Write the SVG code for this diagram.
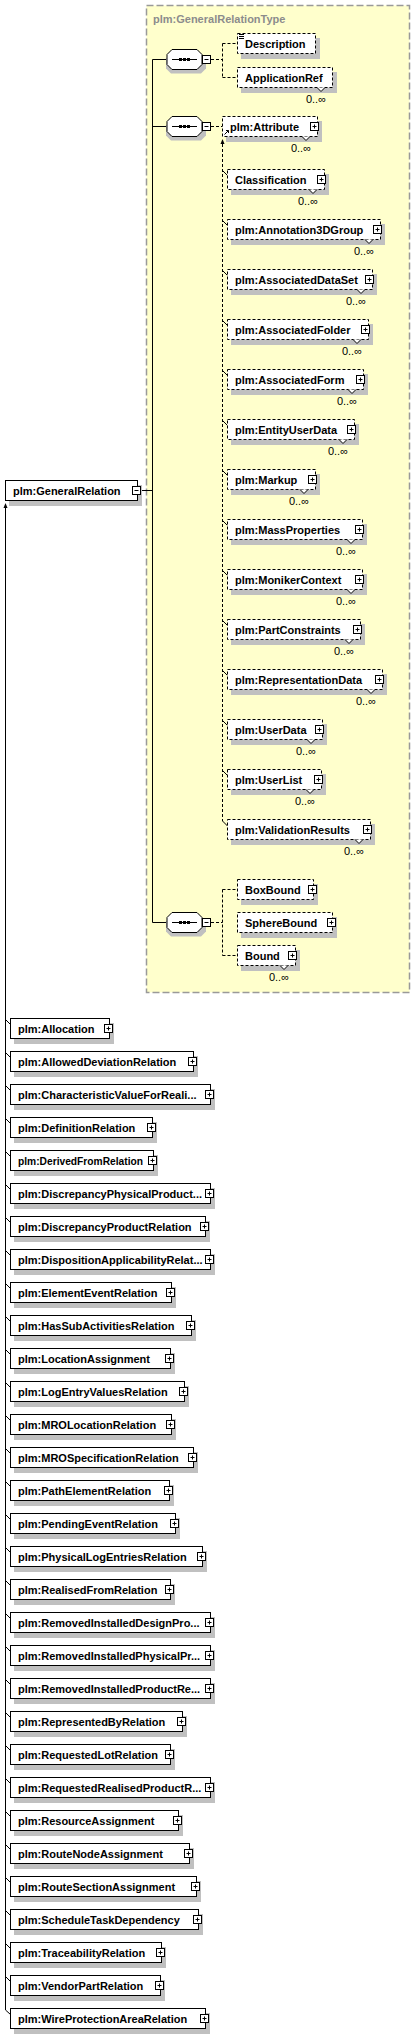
<svg xmlns="http://www.w3.org/2000/svg" xmlns:xlink="http://www.w3.org/1999/xlink" width="415" height="2034" viewBox="0 0 415 2034">
<style>
.sh{fill:#c0c0c0}
.bx{fill:#fff;stroke:#000;stroke-width:1}
.op{stroke-dasharray:3,2}
.t{font-family:"Liberation Sans",Arial,sans-serif;font-size:11px;font-weight:bold;fill:#000}
.m{font-family:"Liberation Sans",Arial,sans-serif;font-size:11px;fill:#000;text-anchor:end}
.ln{fill:none;stroke:#000;stroke-width:1}
.dl{fill:none;stroke:#000;stroke-width:1;stroke-dasharray:3,2}
.v{fill:#fff;stroke:#000;stroke-width:1}
</style>
<defs>
<g id="plus"><rect x="0.5" y="-4" width="8" height="8" fill="#fff" stroke="#000"/><path d="M2.5,0H6.5M4.5,-2V2" stroke="#000" fill="none"/></g>
<g id="minus"><rect x="0.5" y="-4" width="8" height="8" fill="#fff" stroke="#000"/><path d="M2.5,0H6.5" stroke="#000" fill="none"/></g>
<g id="seq">
<polygon points="4,4 34,4 39,9 39,19 34,24 4,24 -1,19 -1,9" class="sh"/>
<polygon points="5,0 30,0 35,5 35,15 30,20 5,20 0,15 0,5" class="bx"/>
<path d="M5,10H30" stroke="#000"/>
<rect x="12" y="8.5" width="3" height="3" fill="#000"/><rect x="16" y="8.5" width="3" height="3" fill="#000"/><rect x="20" y="8.5" width="3" height="3" fill="#000"/>
</g>
</defs>

<rect id="complexType" x="146.5" y="5.5" width="263" height="987" fill="#ffffcc" stroke="#999" stroke-width="1.5" stroke-dasharray="7,3"/>
<text x="153" y="23" class="t" style="fill:#8c8c8c">plm:GeneralRelationType</text>

<g id="connectors">
<path class="ln" d="M141,490.5H152.5M152.5,59.5V922.5M152.5,59.5H167M152.5,126.5H167M152.5,922.5H167"/>
<path class="dl" d="M211,59.5H222.5M222.5,43.5V77.5M222.5,43.5H237.5M222.5,77.5H237.5"/>
<path class="dl" d="M211,126.5H222.5"/>
<path class="dl" d="M211,922.5H222.5M222.5,889.5V955.5M222.5,889.5H237.5M222.5,955.5H237.5"/>
<path class="dl" d="M222.5,144V821"/>
<polygon points="222.5,139 220.5,144 224.5,144" fill="#000"/>
<path class="ln" d="M5.5,508V2010"/>
<polygon points="5.5,503 3.5,508 7.5,508" fill="#000"/>
<path class="ln" d="M223,171L227.5,175.5M223,221L227.5,225.5M223,271L227.5,275.5M223,321L227.5,325.5M223,371L227.5,375.5M223,421L227.5,425.5M223,471L227.5,475.5M223,521L227.5,525.5M223,571L227.5,575.5M223,621L227.5,625.5M223,671L227.5,675.5M223,721L227.5,725.5M223,771L227.5,775.5M222.5,821L227.5,826"/>
<path class="ln" d="M6,1020L10.5,1024.5M6,1053L10.5,1057.5M6,1086L10.5,1090.5M6,1119L10.5,1123.5M6,1152L10.5,1156.5M6,1185L10.5,1189.5M6,1218L10.5,1222.5M6,1251L10.5,1255.5M6,1284L10.5,1288.5M6,1317L10.5,1321.5M6,1350L10.5,1354.5M6,1383L10.5,1387.5M6,1416L10.5,1420.5M6,1449L10.5,1453.5M6,1482L10.5,1486.5M6,1515L10.5,1519.5M6,1548L10.5,1552.5M6,1581L10.5,1585.5M6,1614L10.5,1618.5M6,1647L10.5,1651.5M6,1680L10.5,1684.5M6,1713L10.5,1717.5M6,1746L10.5,1750.5M6,1779L10.5,1783.5M6,1812L10.5,1816.5M6,1845L10.5,1849.5M6,1878L10.5,1882.5M6,1911L10.5,1915.5M6,1944L10.5,1948.5M6,1977L10.5,1981.5M5.5,2010L10.5,2014.5"/>
</g>

<g id="GeneralRelation">
<rect x="9" y="485" width="133" height="21" class="sh"/>
<rect x="5.5" y="480.5" width="132" height="20" class="bx"/>
<text x="13" y="494.5" class="t">plm:GeneralRelation</text>
<use href="#minus" x="132" y="490.5"/>
</g>

<g id="seq1"><use href="#seq" x="167" y="49.5"/><use href="#minus" x="202" y="59.5"/></g>
<g id="seq2"><use href="#seq" x="167" y="116.5"/><use href="#minus" x="202" y="126.5"/></g>
<g id="seq3"><use href="#seq" x="167" y="912.5"/><use href="#minus" x="202" y="922.5"/></g>

<g id="Description">
<rect x="241" y="38" width="79" height="21" class="sh"/>
<rect x="237.5" y="33.5" width="78" height="20" class="bx op"/>
<path d="M239,34.5H244M239,36.5H244M239,38.5H244" stroke="#000"/>
<text x="245" y="47.5" class="t">Description</text>
</g>
<g id="ApplicationRef">
<rect x="241" y="72" width="96" height="21" class="sh"/>
<rect x="237.5" y="67.5" width="95" height="20" class="bx op"/>
<polyline points="317,87.5 321,91.5 325,87.5" class="v"/>
<text x="245" y="81.5" class="t">ApplicationRef</text>
<text x="326" y="103" class="m">0..∞</text>
</g>
<g id="Attribute">
<rect x="226" y="121" width="96" height="21" class="sh"/>
<rect x="222.5" y="116.5" width="95" height="20" class="bx op"/>
<polyline points="302,136.5 306,140.5 310,136.5" class="v"/>
<path d="M224.5,134.5L228.5,130.5M226,130.5H228.5V133" stroke="#000" fill="none"/>
<text x="230" y="130.5" class="t">plm:Attribute</text>
<use href="#plus" x="310" y="126.5"/>
<text x="311" y="152" class="m">0..∞</text>
</g>

<g id="Classification">
<rect x="231" y="174" width="98" height="21" class="sh"/>
<rect x="227.5" y="169.5" width="97" height="20" class="bx op"/>
<polyline points="309,189.5 313,193.5 317,189.5" class="v"/>
<text x="235" y="183.5" class="t">Classification</text>
<use href="#plus" x="317" y="179.5"/>
<text x="318" y="205" class="m">0..∞</text>
</g>
<g id="Annotation3DGroup">
<rect x="231" y="224" width="154" height="21" class="sh"/>
<rect x="227.5" y="219.5" width="153" height="20" class="bx op"/>
<polyline points="365,239.5 369,243.5 373,239.5" class="v"/>
<text x="235" y="233.5" class="t">plm:Annotation3DGroup</text>
<use href="#plus" x="373" y="229.5"/>
<text x="374" y="255" class="m">0..∞</text>
</g>
<g id="AssociatedDataSet">
<rect x="231" y="274" width="146" height="21" class="sh"/>
<rect x="227.5" y="269.5" width="145" height="20" class="bx op"/>
<polyline points="357,289.5 361,293.5 365,289.5" class="v"/>
<text x="235" y="283.5" class="t">plm:AssociatedDataSet</text>
<use href="#plus" x="365" y="279.5"/>
<text x="366" y="305" class="m">0..∞</text>
</g>
<g id="AssociatedFolder">
<rect x="231" y="324" width="142" height="21" class="sh"/>
<rect x="227.5" y="319.5" width="141" height="20" class="bx op"/>
<polyline points="353,339.5 357,343.5 361,339.5" class="v"/>
<text x="235" y="333.5" class="t">plm:AssociatedFolder</text>
<use href="#plus" x="361" y="329.5"/>
<text x="362" y="355" class="m">0..∞</text>
</g>
<g id="AssociatedForm">
<rect x="231" y="374" width="137" height="21" class="sh"/>
<rect x="227.5" y="369.5" width="136" height="20" class="bx op"/>
<polyline points="348,389.5 352,393.5 356,389.5" class="v"/>
<text x="235" y="383.5" class="t">plm:AssociatedForm</text>
<use href="#plus" x="356" y="379.5"/>
<text x="357" y="405" class="m">0..∞</text>
</g>
<g id="EntityUserData">
<rect x="231" y="424" width="128" height="21" class="sh"/>
<rect x="227.5" y="419.5" width="127" height="20" class="bx op"/>
<polyline points="339,439.5 343,443.5 347,439.5" class="v"/>
<text x="235" y="433.5" class="t">plm:EntityUserData</text>
<use href="#plus" x="347" y="429.5"/>
<text x="348" y="455" class="m">0..∞</text>
</g>
<g id="Markup">
<rect x="231" y="474" width="89" height="21" class="sh"/>
<rect x="227.5" y="469.5" width="88" height="20" class="bx op"/>
<polyline points="300,489.5 304,493.5 308,489.5" class="v"/>
<text x="235" y="483.5" class="t">plm:Markup</text>
<use href="#plus" x="308" y="479.5"/>
<text x="309" y="505" class="m">0..∞</text>
</g>
<g id="MassProperties">
<rect x="231" y="524" width="136" height="21" class="sh"/>
<rect x="227.5" y="519.5" width="135" height="20" class="bx op"/>
<polyline points="347,539.5 351,543.5 355,539.5" class="v"/>
<text x="235" y="533.5" class="t">plm:MassProperties</text>
<use href="#plus" x="355" y="529.5"/>
<text x="356" y="555" class="m">0..∞</text>
</g>
<g id="MonikerContext">
<rect x="231" y="574" width="136" height="21" class="sh"/>
<rect x="227.5" y="569.5" width="135" height="20" class="bx op"/>
<polyline points="347,589.5 351,593.5 355,589.5" class="v"/>
<text x="235" y="583.5" class="t">plm:MonikerContext</text>
<use href="#plus" x="355" y="579.5"/>
<text x="356" y="605" class="m">0..∞</text>
</g>
<g id="PartConstraints">
<rect x="231" y="624" width="134" height="21" class="sh"/>
<rect x="227.5" y="619.5" width="133" height="20" class="bx op"/>
<polyline points="345,639.5 349,643.5 353,639.5" class="v"/>
<text x="235" y="633.5" class="t">plm:PartConstraints</text>
<use href="#plus" x="353" y="629.5"/>
<text x="354" y="655" class="m">0..∞</text>
</g>
<g id="RepresentationData">
<rect x="231" y="674" width="156" height="21" class="sh"/>
<rect x="227.5" y="669.5" width="155" height="20" class="bx op"/>
<polyline points="367,689.5 371,693.5 375,689.5" class="v"/>
<text x="235" y="683.5" class="t">plm:RepresentationData</text>
<use href="#plus" x="375" y="679.5"/>
<text x="376" y="705" class="m">0..∞</text>
</g>
<g id="UserData">
<rect x="231" y="724" width="96" height="21" class="sh"/>
<rect x="227.5" y="719.5" width="95" height="20" class="bx op"/>
<polyline points="307,739.5 311,743.5 315,739.5" class="v"/>
<text x="235" y="733.5" class="t">plm:UserData</text>
<use href="#plus" x="315" y="729.5"/>
<text x="316" y="755" class="m">0..∞</text>
</g>
<g id="UserList">
<rect x="231" y="774" width="95" height="21" class="sh"/>
<rect x="227.5" y="769.5" width="94" height="20" class="bx op"/>
<polyline points="306,789.5 310,793.5 314,789.5" class="v"/>
<text x="235" y="783.5" class="t">plm:UserList</text>
<use href="#plus" x="314" y="779.5"/>
<text x="315" y="805" class="m">0..∞</text>
</g>
<g id="ValidationResults">
<rect x="231" y="824" width="144" height="21" class="sh"/>
<rect x="227.5" y="819.5" width="143" height="20" class="bx op"/>
<polyline points="355,839.5 359,843.5 363,839.5" class="v"/>
<text x="235" y="833.5" class="t">plm:ValidationResults</text>
<use href="#plus" x="363" y="829.5"/>
<text x="364" y="855" class="m">0..∞</text>
</g>

<g id="BoxBound">
<rect x="241" y="884" width="77" height="21" class="sh"/>
<rect x="237.5" y="879.5" width="76" height="20" class="bx op"/>
<text x="245" y="893.5" class="t">BoxBound</text>
<use href="#plus" x="308" y="889.5"/>
</g>
<g id="SphereBound">
<rect x="241" y="917" width="96" height="21" class="sh"/>
<rect x="237.5" y="912.5" width="95" height="20" class="bx op"/>
<text x="245" y="926.5" class="t">SphereBound</text>
<use href="#plus" x="327" y="922.5"/>
</g>
<g id="Bound">
<rect x="241" y="950" width="59" height="21" class="sh"/>
<rect x="237.5" y="945.5" width="58" height="20" class="bx op"/>
<polyline points="280,965.5 284,969.5 288,965.5" class="v"/>
<text x="245" y="959.5" class="t">Bound</text>
<use href="#plus" x="288" y="955.5"/>
<text x="289" y="981" class="m">0..∞</text>
</g>

<g id="Allocation"><rect x="14" y="1023" width="100" height="21" class="sh"/><rect x="10.5" y="1018.5" width="99" height="20" class="bx"/><text x="18" y="1032.5" class="t">plm:Allocation</text><use href="#plus" x="104" y="1028.5"/></g>
<g id="AllowedDeviationRelation"><rect x="14" y="1056" width="184" height="21" class="sh"/><rect x="10.5" y="1051.5" width="183" height="20" class="bx"/><text x="18" y="1065.5" class="t">plm:AllowedDeviationRelation</text><use href="#plus" x="188" y="1061.5"/></g>
<g id="CharacteristicValueForRealisedProduct"><rect x="14" y="1089" width="201" height="21" class="sh"/><rect x="10.5" y="1084.5" width="200" height="20" class="bx"/><text x="18" y="1098.5" class="t">plm:CharacteristicValueForReali...</text><use href="#plus" x="205" y="1094.5"/></g>
<g id="DefinitionRelation"><rect x="14" y="1122" width="143" height="21" class="sh"/><rect x="10.5" y="1117.5" width="142" height="20" class="bx"/><text x="18" y="1131.5" class="t">plm:DefinitionRelation</text><use href="#plus" x="147" y="1127.5"/></g>
<g id="DerivedFromRelation"><rect x="14" y="1155" width="144" height="21" class="sh"/><rect x="10.5" y="1150.5" width="143" height="20" class="bx"/><text x="18" y="1164.5" class="t" textLength="125" lengthAdjust="spacingAndGlyphs">plm:DerivedFromRelation</text><use href="#plus" x="148" y="1160.5"/></g>
<g id="DiscrepancyPhysicalProduct"><rect x="14" y="1188" width="201" height="21" class="sh"/><rect x="10.5" y="1183.5" width="200" height="20" class="bx"/><text x="18" y="1197.5" class="t">plm:DiscrepancyPhysicalProduct...</text><use href="#plus" x="205" y="1193.5"/></g>
<g id="DiscrepancyProductRelation"><rect x="14" y="1221" width="196" height="21" class="sh"/><rect x="10.5" y="1216.5" width="195" height="20" class="bx"/><text x="18" y="1230.5" class="t">plm:DiscrepancyProductRelation</text><use href="#plus" x="200" y="1226.5"/></g>
<g id="DispositionApplicabilityRelation"><rect x="14" y="1254" width="201" height="21" class="sh"/><rect x="10.5" y="1249.5" width="200" height="20" class="bx"/><text x="18" y="1263.5" class="t">plm:DispositionApplicabilityRelat...</text><use href="#plus" x="205" y="1259.5"/></g>
<g id="ElementEventRelation"><rect x="14" y="1287" width="162" height="21" class="sh"/><rect x="10.5" y="1282.5" width="161" height="20" class="bx"/><text x="18" y="1296.5" class="t">plm:ElementEventRelation</text><use href="#plus" x="166" y="1292.5"/></g>
<g id="HasSubActivitiesRelation"><rect x="14" y="1320" width="182" height="21" class="sh"/><rect x="10.5" y="1315.5" width="181" height="20" class="bx"/><text x="18" y="1329.5" class="t">plm:HasSubActivitiesRelation</text><use href="#plus" x="186" y="1325.5"/></g>
<g id="LocationAssignment"><rect x="14" y="1353" width="161" height="21" class="sh"/><rect x="10.5" y="1348.5" width="160" height="20" class="bx"/><text x="18" y="1362.5" class="t">plm:LocationAssignment</text><use href="#plus" x="165" y="1358.5"/></g>
<g id="LogEntryValuesRelation"><rect x="14" y="1386" width="175" height="21" class="sh"/><rect x="10.5" y="1381.5" width="174" height="20" class="bx"/><text x="18" y="1395.5" class="t">plm:LogEntryValuesRelation</text><use href="#plus" x="179" y="1391.5"/></g>
<g id="MROLocationRelation"><rect x="14" y="1419" width="162" height="21" class="sh"/><rect x="10.5" y="1414.5" width="161" height="20" class="bx"/><text x="18" y="1428.5" class="t">plm:MROLocationRelation</text><use href="#plus" x="166" y="1424.5"/></g>
<g id="MROSpecificationRelation"><rect x="14" y="1452" width="184" height="21" class="sh"/><rect x="10.5" y="1447.5" width="183" height="20" class="bx"/><text x="18" y="1461.5" class="t">plm:MROSpecificationRelation</text><use href="#plus" x="188" y="1457.5"/></g>
<g id="PathElementRelation"><rect x="14" y="1485" width="160" height="21" class="sh"/><rect x="10.5" y="1480.5" width="159" height="20" class="bx"/><text x="18" y="1494.5" class="t">plm:PathElementRelation</text><use href="#plus" x="164" y="1490.5"/></g>
<g id="PendingEventRelation"><rect x="14" y="1518" width="166" height="21" class="sh"/><rect x="10.5" y="1513.5" width="165" height="20" class="bx"/><text x="18" y="1527.5" class="t">plm:PendingEventRelation</text><use href="#plus" x="170" y="1523.5"/></g>
<g id="PhysicalLogEntriesRelation"><rect x="14" y="1551" width="193" height="21" class="sh"/><rect x="10.5" y="1546.5" width="192" height="20" class="bx"/><text x="18" y="1560.5" class="t">plm:PhysicalLogEntriesRelation</text><use href="#plus" x="197" y="1556.5"/></g>
<g id="RealisedFromRelation"><rect x="14" y="1584" width="161" height="21" class="sh"/><rect x="10.5" y="1579.5" width="160" height="20" class="bx"/><text x="18" y="1593.5" class="t">plm:RealisedFromRelation</text><use href="#plus" x="165" y="1589.5"/></g>
<g id="RemovedInstalledDesignProduct"><rect x="14" y="1617" width="201" height="21" class="sh"/><rect x="10.5" y="1612.5" width="200" height="20" class="bx"/><text x="18" y="1626.5" class="t">plm:RemovedInstalledDesignPro...</text><use href="#plus" x="205" y="1622.5"/></g>
<g id="RemovedInstalledPhysicalProduct"><rect x="14" y="1650" width="201" height="21" class="sh"/><rect x="10.5" y="1645.5" width="200" height="20" class="bx"/><text x="18" y="1659.5" class="t">plm:RemovedInstalledPhysicalPr...</text><use href="#plus" x="205" y="1655.5"/></g>
<g id="RemovedInstalledProductRelation"><rect x="14" y="1683" width="201" height="21" class="sh"/><rect x="10.5" y="1678.5" width="200" height="20" class="bx"/><text x="18" y="1692.5" class="t">plm:RemovedInstalledProductRe...</text><use href="#plus" x="205" y="1688.5"/></g>
<g id="RepresentedByRelation"><rect x="14" y="1716" width="173" height="21" class="sh"/><rect x="10.5" y="1711.5" width="172" height="20" class="bx"/><text x="18" y="1725.5" class="t">plm:RepresentedByRelation</text><use href="#plus" x="177" y="1721.5"/></g>
<g id="RequestedLotRelation"><rect x="14" y="1749" width="161" height="21" class="sh"/><rect x="10.5" y="1744.5" width="160" height="20" class="bx"/><text x="18" y="1758.5" class="t">plm:RequestedLotRelation</text><use href="#plus" x="165" y="1754.5"/></g>
<g id="RequestedRealisedProductRelation"><rect x="14" y="1782" width="201" height="21" class="sh"/><rect x="10.5" y="1777.5" width="200" height="20" class="bx"/><text x="18" y="1791.5" class="t">plm:RequestedRealisedProductR...</text><use href="#plus" x="205" y="1787.5"/></g>
<g id="ResourceAssignment"><rect x="14" y="1815" width="169" height="21" class="sh"/><rect x="10.5" y="1810.5" width="168" height="20" class="bx"/><text x="18" y="1824.5" class="t">plm:ResourceAssignment</text><use href="#plus" x="173" y="1820.5"/></g>
<g id="RouteNodeAssignment"><rect x="14" y="1848" width="180" height="21" class="sh"/><rect x="10.5" y="1843.5" width="179" height="20" class="bx"/><text x="18" y="1857.5" class="t">plm:RouteNodeAssignment</text><use href="#plus" x="184" y="1853.5"/></g>
<g id="RouteSectionAssignment"><rect x="14" y="1881" width="187" height="21" class="sh"/><rect x="10.5" y="1876.5" width="186" height="20" class="bx"/><text x="18" y="1890.5" class="t">plm:RouteSectionAssignment</text><use href="#plus" x="191" y="1886.5"/></g>
<g id="ScheduleTaskDependency"><rect x="14" y="1914" width="189" height="21" class="sh"/><rect x="10.5" y="1909.5" width="188" height="20" class="bx"/><text x="18" y="1923.5" class="t">plm:ScheduleTaskDependency</text><use href="#plus" x="193" y="1919.5"/></g>
<g id="TraceabilityRelation"><rect x="14" y="1947" width="152" height="21" class="sh"/><rect x="10.5" y="1942.5" width="151" height="20" class="bx"/><text x="18" y="1956.5" class="t">plm:TraceabilityRelation</text><use href="#plus" x="156" y="1952.5"/></g>
<g id="VendorPartRelation"><rect x="14" y="1980" width="151" height="21" class="sh"/><rect x="10.5" y="1975.5" width="150" height="20" class="bx"/><text x="18" y="1989.5" class="t">plm:VendorPartRelation</text><use href="#plus" x="155" y="1985.5"/></g>
<g id="WireProtectionAreaRelation"><rect x="14" y="2013" width="196" height="21" class="sh"/><rect x="10.5" y="2008.5" width="195" height="20" class="bx"/><text x="18" y="2022.5" class="t">plm:WireProtectionAreaRelation</text><use href="#plus" x="200" y="2018.5"/></g>
</svg>
